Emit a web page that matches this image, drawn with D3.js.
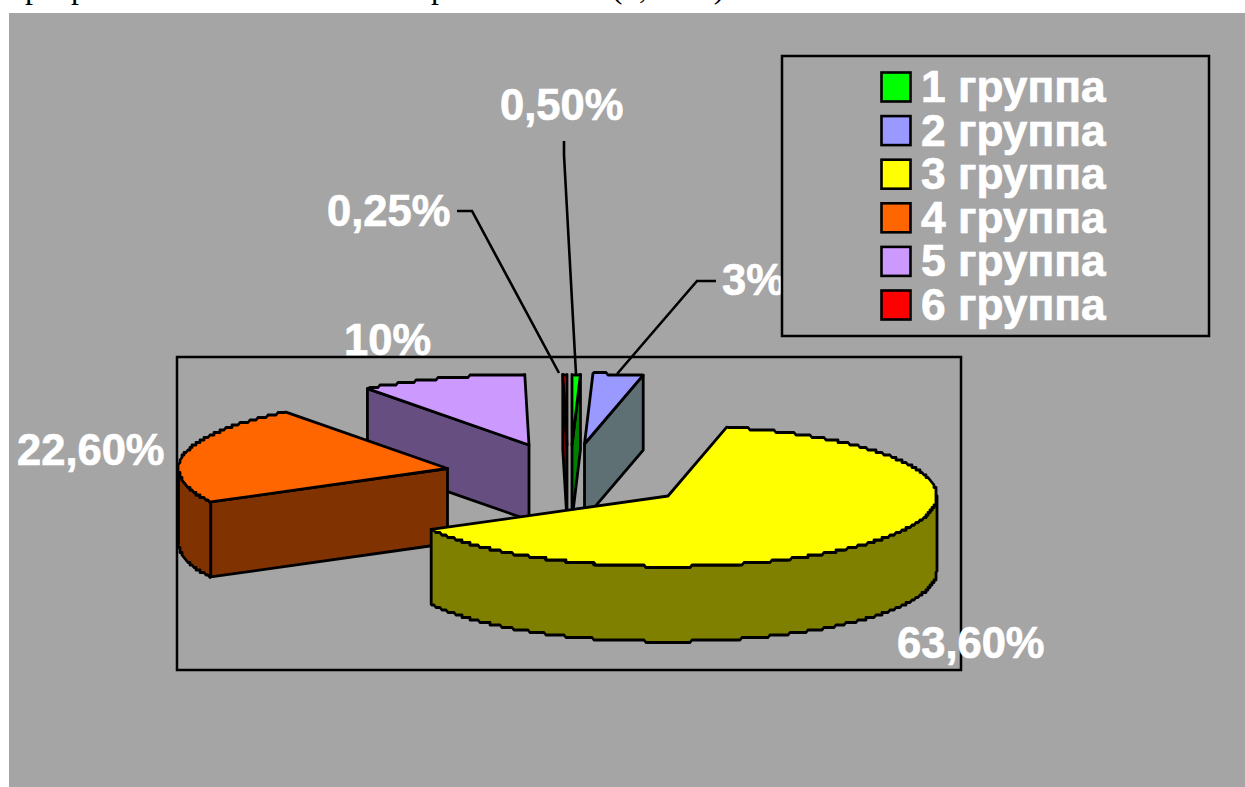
<!DOCTYPE html>
<html><head><meta charset="utf-8">
<script src="https://cdnjs.cloudflare.com/ajax/libs/d3/7.8.5/d3.min.js"></script>
<style>html,body{margin:0;padding:0;background:#fff;overflow:hidden}svg{display:block}
text{font-family:"Liberation Sans",Arial,sans-serif;font-weight:bold;fill:#fff}</style></head>
<body><svg id="c" width="1245" height="787"></svg>
<script>
const groups = ["1 группа","2 группа","3 группа","4 группа","5 группа","6 группа"];
const values = [0.5,3,63.6,22.6,10,0.25];
const valueLabels = ["0,50%","3%","63,60%","22,60%","10%","0,25%"];
const topColors = ["#00ff00","#9999ff","#ffff00","#ff6600","#cc99ff","#ff0000"];
const sideColors = ["#008000","#5f7074","#808000","#803300","#664f80","#800000"];

// layout
const W=1245,H=787, RX=269, RY=70.5, DEPTH=75, STEP_X=2, STEP_Y=2.5;
const apexes=[[572,445],[584.5,444],[668,496],[447.5,468.5],[529,445],[567,445]];
const labelPos=[[500,120],[722,295],[897,658],[17,465],[344,355],[327,226]];
const leaders=[[[576,374],[564,155],[564,141]],[[617,374],[697,281],[716,281]],null,null,null,[[559,373],[472,211],[457,211]]];

const svg=d3.select("#c");
svg.append("rect").attr("x",9).attr("y",13).attr("width",W-9).attr("height",H-13).attr("fill","#a5a5a5");
// clipped line of text above the chart
[["р",33],["р",79],["р",439],["(",617],[",",643],[")",719]].forEach(([t,x])=>{
  svg.append("text").attr("x",x).attr("y",-2).attr("text-anchor","middle")
    .style("font-family","'Liberation Serif',serif").style("font-weight","normal").style("fill","#000")
    .attr("font-size",32).text(t);
});
const frame=(x,y,w,h,fill)=>svg.append("rect").attr("x",x).attr("y",y).attr("width",w).attr("height",h)
  .attr("fill",fill).attr("stroke","#000").attr("stroke-width",2.5);
frame(177,357,784,313,"none");

const sx=d3.scaleLinear().domain([-1,1]).range([-RX,RX]);
const sy=d3.scaleLinear().domain([-1,1]).range([-RY,RY]);
const arcs=d3.pie().sort(null).value(d=>d)(values);
function arcPts(ax,ay,a0,a1,dz){
  const n=Math.max(2,Math.ceil((a1-a0)*RX/2));
  const pts=[];
  for(let i=0;i<=n;i++){
    const a=a0+(a1-a0)*i/n;
    const x=ax+sx(Math.sin(a)), y=ay+dz+sy(-Math.cos(a));
    const p=(i===0||i===n)?[x,y]:[Math.round(x/STEP_X)*STEP_X,Math.round(y/STEP_Y)*STEP_Y];
    const l=pts[pts.length-1];
    if(!l||l[0]!==p[0]||l[1]!==p[1])pts.push(p);
  }
  return pts;
}
const line=d3.line();
function poly(pts,fill){
  svg.append("path").attr("d",line(pts)+"Z").attr("fill",fill).attr("stroke","#000")
    .attr("stroke-width",2.8).attr("stroke-linejoin","round");
}
function pt(ax,ay,a,dz){return [ax+sx(Math.sin(a)),ay+dz+sy(-Math.cos(a))];}
const order=[1,0,5,4,3,2];
const PI=Math.PI;
order.forEach(i=>{
  const d=arcs[i],[ax,ay]=apexes[i],a0=d.startAngle,a1=d.endAngle,side=sideColors[i];
  if(a0>PI&&a0<2*PI){const p=pt(ax,ay,a0,0);poly([[ax,ay],p,[p[0],p[1]+DEPTH],[ax,ay+DEPTH]],side);}
  if(a1>0&&a1<PI){const p=pt(ax,ay,a1,0);poly([[ax,ay],p,[p[0],p[1]+DEPTH],[ax,ay+DEPTH]],side);}
  const r0=Math.max(a0,PI/2),r1=Math.min(a1,3*PI/2);
  if(r1>r0){
    const t=arcPts(ax,ay,r0,r1,0),b=arcPts(ax,ay,r0,r1,DEPTH);
    poly(t.concat(b.reverse()),side);
  }
  poly([[ax,ay]].concat(arcPts(ax,ay,a0,a1,0)),topColors[i]);
});
leaders.forEach(l=>{ if(l) svg.append("path").attr("d",line(l)).attr("fill","none").attr("stroke","#000").attr("stroke-width",2.6);});
valueLabels.forEach((t,i)=>{
  svg.append("text").attr("x",labelPos[i][0]).attr("y",labelPos[i][1]).attr("font-size",43.5)
    .attr("stroke","#fff").attr("stroke-width",0.7).text(t);
});
// legend: opaque box drawn over the labels
frame(782,56,427,280,"#a5a5a5");
const ly=d3.scalePoint().domain(groups).range([87,305]);
groups.forEach((g,i)=>{
  svg.append("rect").attr("x",881.5).attr("y",ly(g)-14.5).attr("width",29).attr("height",29)
    .attr("fill",topColors[i]).attr("stroke","#000").attr("stroke-width",2.6);
  svg.append("text").attr("x",921).attr("y",ly(g)+15).attr("font-size",44.3)
    .attr("stroke","#fff").attr("stroke-width",0.7).text(g);
});
</script></body></html>
